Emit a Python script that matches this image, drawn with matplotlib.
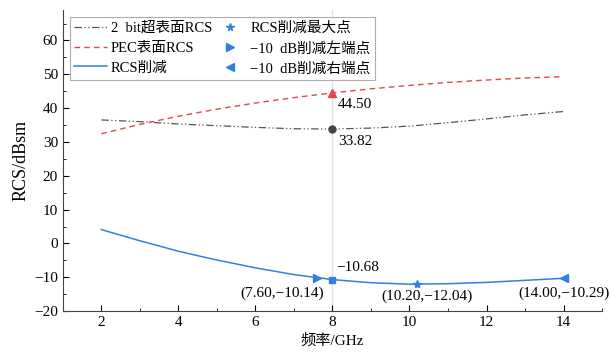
import matplotlib
matplotlib.use("Agg")
import matplotlib.pyplot as plt
from matplotlib.ticker import MultipleLocator, FixedLocator

plt.rcParams['font.family'] = ['Liberation Serif', 'Noto Sans CJK SC']
plt.rcParams['axes.unicode_minus'] = True

freq = [2, 3, 4, 5, 6, 7, 8, 9, 10, 11, 12, 13, 14]
rcs_2bit = [36.5, 36.0, 35.3, 34.8, 34.3, 33.9, 33.82, 34.1, 34.67, 35.7, 36.8, 38.0, 39.0]
rcs_pec = [32.4, 35.2, 37.6, 39.7, 41.5, 43.1, 44.5, 45.7, 46.7, 47.6, 48.3, 48.9, 49.3]
rcs_red = [4.1, 0.8, -2.3, -4.9, -7.2, -9.2, -10.68, -11.6, -12.03, -11.9, -11.5, -10.9, -10.29]

mark_x = 8
pec_at_mark = 44.50
bit_at_mark = 33.82
red_at_mark = -10.68
max_pt = (10.20, -12.04)
left_pt = (7.60, -10.14)
right_pt = (14.00, -10.29)

labels = ['2  bit超表面RCS', 'PEC表面RCS', 'RCS削减',
          'RCS削减最大点', '−10  dB削减左端点', '−10  dB削减右端点']

blue = '#3380dc'
red = '#e8444c'
grey = '#555555'

fig = plt.figure(figsize=(6.10, 3.56), dpi=100)
ax = fig.add_axes([0.103, 0.126, 0.884, 0.846])

ax.axvline(mark_x, color='#dde8dd', lw=1.0, zorder=0)

l1, = ax.plot(freq, rcs_2bit, color=grey, lw=0.9, ls=(0, (6, 2, 1, 2, 1, 2)))
l2, = ax.plot(freq, rcs_pec, color=red, lw=1.0, ls=(0, (4, 3)))
l3, = ax.plot(freq, rcs_red, color=blue, lw=1.1)

ax.plot([mark_x], [pec_at_mark], marker='^', color=red, ms=6, ls='none')
ax.plot([mark_x], [bit_at_mark], marker='o', color='#444444', ms=5, ls='none')
ax.plot([mark_x], [red_at_mark], marker='s', color=blue, ms=5, ls='none')
m1, = ax.plot([max_pt[0]], [max_pt[1]], marker='*', color=blue, ms=6, ls='none')
m2, = ax.plot([left_pt[0]], [left_pt[1]], marker='>', color=blue, ms=6, ls='none')
m3, = ax.plot([right_pt[0]], [right_pt[1]], marker='<', color=blue, ms=6, ls='none')

fs = 11
ax.annotate(f'{pec_at_mark:.2f}', (mark_x, pec_at_mark), xytext=(4, -4),
            textcoords='offset points', ha='left', va='top', fontsize=fs)
ax.annotate(f'{bit_at_mark:.2f}', (mark_x, bit_at_mark), xytext=(4, -4),
            textcoords='offset points', ha='left', va='top', fontsize=fs)
ax.annotate(f'{red_at_mark:.2f}'.replace('-', '−'), (mark_x, red_at_mark), xytext=(3, 4),
            textcoords='offset points', ha='left', va='bottom', fontsize=fs)
def ptxt(p):
    return f'({p[0]:.2f},{p[1]:.2f})'.replace('-', '−')
ax.annotate(ptxt(left_pt), left_pt, xytext=(5, -6),
            textcoords='offset points', ha='right', va='top', fontsize=fs)
ax.annotate(ptxt(max_pt), max_pt, xytext=(7, -4),
            textcoords='offset points', ha='center', va='top', fontsize=fs)
ax.annotate(ptxt(right_pt), right_pt, xytext=(0, -6),
            textcoords='offset points', ha='center', va='top', fontsize=fs)

ax.set_xlim(1, 15)
ax.set_ylim(-20, 69)
ax.xaxis.set_major_locator(MultipleLocator(2))
ax.xaxis.set_minor_locator(MultipleLocator(1))
ax.yaxis.set_major_locator(FixedLocator(range(-20, 61, 10)))
ax.yaxis.set_minor_locator(FixedLocator(range(-15, 66, 10)))
ax.tick_params(which='both', direction='in', labelsize=11)
ax.tick_params(which='major', length=4)
ax.tick_params(which='minor', length=2)
for s in ['top', 'right']:
    ax.spines[s].set_visible(False)
for s in ['left', 'bottom']:
    ax.spines[s].set_color('#444444')

ax.set_xlabel('频率/GHz', fontsize=11, labelpad=3)
ax.set_ylabel('RCS/dBsm', fontsize=13, labelpad=3)

leg = ax.legend([l1, l2, l3, m1, m2, m3], labels, ncol=2, loc='upper left',
                bbox_to_anchor=(0.0, 1.0), fontsize=10.5, frameon=True, fancybox=False,
                edgecolor='#999999', handlelength=2.2, handletextpad=0.3,
                columnspacing=0.1, borderpad=0.3, labelspacing=0.45, markerscale=0.9)
leg.get_frame().set_linewidth(0.8)

fig.savefig('out.png', dpi=100)
